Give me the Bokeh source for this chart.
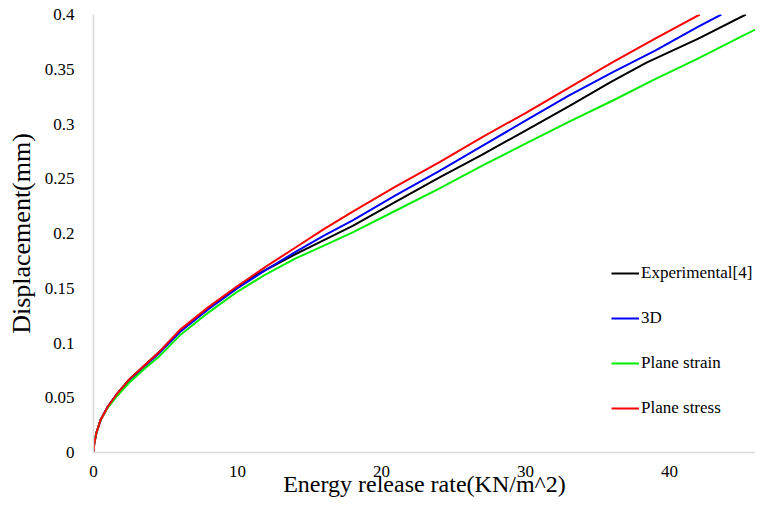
from bokeh.plotting import figure
from bokeh.models import Range1d, FixedTicker, Legend, LegendItem
from bokeh.embed import file_html
from bokeh.resources import INLINE

# ---- data ----
exp_x = [0, 0.05, 0.2, 0.5, 1.0, 1.6, 2.5, 3.5, 4.5, 6, 8, 10, 11, 12, 14, 16, 18, 21, 24, 27, 30, 33, 36, 38.4, 42, 45.3]
exp_y = [0, 0.008, 0.018, 0.030, 0.042, 0.053, 0.067, 0.079, 0.091, 0.111, 0.132, 0.151, 0.160, 0.167, 0.181, 0.194, 0.207, 0.229, 0.251, 0.272, 0.294, 0.316, 0.339, 0.356, 0.378, 0.400]

d3_x = [0, 0.05, 0.2, 0.5, 1.0, 1.6, 2.5, 3.5, 4.5, 6, 8, 10, 12, 14, 16, 18, 21, 24, 27, 30, 33, 36, 39, 42, 43.6]
d3_y = [0, 0.008, 0.018, 0.030, 0.042, 0.053, 0.066, 0.078, 0.090, 0.110, 0.131, 0.150, 0.167, 0.183, 0.198, 0.212, 0.235, 0.257, 0.280, 0.303, 0.326, 0.347, 0.367, 0.389, 0.400]

strain_x = [0, 0.05, 0.2, 0.5, 1.0, 1.6, 2.5, 3.5, 4.5, 6, 8, 10, 12, 14, 16, 18, 21, 24, 27, 30, 33, 36, 39, 42, 45, 47]
strain_y = [0, 0.008, 0.018, 0.030, 0.041, 0.051, 0.064, 0.076, 0.087, 0.107, 0.128, 0.147, 0.163, 0.177, 0.189, 0.201, 0.221, 0.241, 0.262, 0.282, 0.302, 0.321, 0.341, 0.360, 0.380, 0.393]

stress_x = [0, 0.05, 0.2, 0.5, 1.0, 1.6, 2.5, 3.5, 4.5, 6, 8, 10, 12, 14, 16, 18, 21, 24, 27, 30, 33, 36, 39, 42.1]
stress_y = [0, 0.008, 0.018, 0.030, 0.042, 0.053, 0.067, 0.079, 0.091, 0.112, 0.133, 0.152, 0.170, 0.187, 0.204, 0.220, 0.243, 0.265, 0.288, 0.310, 0.333, 0.356, 0.378, 0.400]

x_ticks = [0, 10, 20, 30, 40]
y_ticks = [0, 0.05, 0.1, 0.15, 0.2, 0.25, 0.3, 0.35, 0.4]
y_tick_labels = ["0", "0.05", "0.1", "0.15", "0.2", "0.25", "0.3", "0.35", "0.4"]

series_names = ["Experimental[4]", "3D", "Plane strain", "Plane stress"]
series_colors = ["#000000", "#0000ff", "#00ee00", "#ff0000"]

FONT = "Liberation Serif"

p = figure(width=755, height=499, output_backend="svg", toolbar_location=None,
           x_range=Range1d(0, 45.97), y_range=Range1d(0, 0.4),
           min_border_left=93, min_border_right=0, min_border_top=14, min_border_bottom=47)

p.outline_line_color = None
p.xgrid.grid_line_color = None
p.ygrid.grid_line_color = None
p.background_fill_color = "white"
p.border_fill_color = "white"

xs = [exp_x, d3_x, strain_x, stress_x]
ys = [exp_y, d3_y, strain_y, stress_y]
renderers = []
for xx, yy, c in zip(xs, ys, series_colors):
    r = p.line(xx, yy, line_color=c, line_width=2)
    renderers.append(r)

legend = Legend(items=[LegendItem(label=n, renderers=[r]) for n, r in zip(series_names, renderers)],
                location=(518, 34), border_line_alpha=0, background_fill_alpha=0,
                padding=0, margin=0, spacing=25, glyph_width=28, glyph_height=20,
                label_height=20, label_standoff=2,
                label_text_font=FONT, label_text_font_size="17px", label_text_color="#000000")
p.add_layout(legend, "center")

for ax in (p.xaxis[0], p.yaxis[0]):
    ax.axis_line_color = "#d9d9d9"
    ax.axis_line_width = 1.5
    ax.major_tick_line_color = None
    ax.minor_tick_line_color = None
    ax.major_label_text_font = FONT
    ax.major_label_text_font_size = "17px"
    ax.major_label_text_color = "#000000"
    ax.axis_label_text_font = FONT
    ax.axis_label_text_font_style = "normal"
    ax.axis_label_text_color = "#000000"

p.xaxis[0].ticker = FixedTicker(ticks=x_ticks)
p.yaxis[0].ticker = FixedTicker(ticks=y_ticks)
p.yaxis[0].major_label_overrides = {t: l for t, l in zip(y_ticks, y_tick_labels)}

p.xaxis[0].axis_label = "Energy release rate(KN/m^2)"
p.xaxis[0].axis_label_text_font_size = "24px"
p.xaxis[0].major_label_standoff = 7
p.xaxis[0].axis_label_standoff = -9

p.yaxis[0].axis_label = "Displacement(mm)"
p.yaxis[0].axis_label_text_font_size = "26px"
p.yaxis[0].major_label_standoff = 13
p.yaxis[0].axis_label_standoff = 6

open("out.html", "w").write(file_html(p, INLINE))
